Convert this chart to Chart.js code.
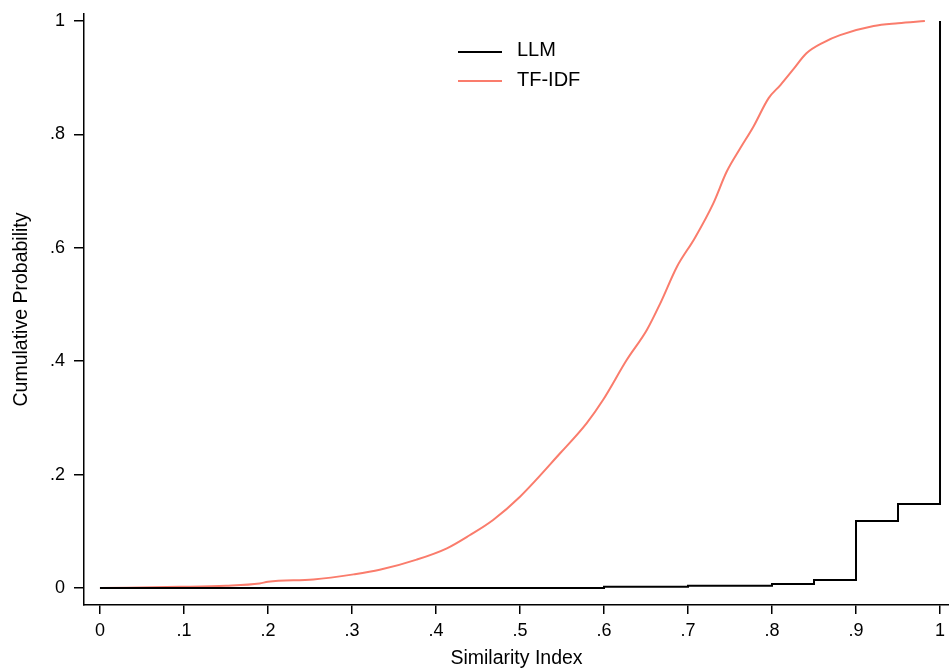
<!DOCTYPE html>
<html>
<head>
    <title>Similarity CDF</title>
    <script src="https://cdn.jsdelivr.net/npm/chart.js@4.4.0/dist/chart.umd.min.js"></script>
    <style>
        * { margin: 0; padding: 0; box-sizing: border-box; }
        body { background: #fff; width: 949px; height: 671px; overflow: hidden; }
        #wrap { position: relative; width: 949px; height: 671px; }
    </style>
</head>
<body>
    <div id="wrap"><canvas id="cdf"></canvas></div>
    <script>
        // LLM empirical CDF (step function)
        const llmX = [0, 0.6, 0.7, 0.8, 0.85, 0.9, 0.95, 1];
        const llmY = [0, 0.002, 0.004, 0.007, 0.014, 0.118, 0.148, 1];

        // TF-IDF empirical CDF
        const tfidfX = [0, 0.095, 0.15, 0.19, 0.2, 0.254, 0.302, 0.333, 0.377, 0.413, 0.44, 0.468, 0.5,
            0.548, 0.579, 0.599, 0.627, 0.651, 0.667, 0.687, 0.708, 0.73, 0.746, 0.762, 0.778,
            0.796, 0.81, 0.825, 0.841, 0.861, 0.881, 0.921, 0.95, 0.982];
        const tfidfY = [0, 0.002, 0.004, 0.008, 0.011, 0.015, 0.024, 0.032, 0.05, 0.07, 0.093, 0.12, 0.161,
            0.238, 0.29, 0.332, 0.402, 0.455, 0.502, 0.567, 0.617, 0.678, 0.734, 0.775, 0.814,
            0.864, 0.887, 0.914, 0.943, 0.962, 0.975, 0.991, 0.996, 1.0];

        const xTicks = [0, 0.1, 0.2, 0.3, 0.4, 0.5, 0.6, 0.7, 0.8, 0.9, 1];
        const xTickLabels = ['0', '.1', '.2', '.3', '.4', '.5', '.6', '.7', '.8', '.9', '1'];
        const yTicks = [0, 0.2, 0.4, 0.6, 0.8, 1];
        const yTickLabels = ['0', '.2', '.4', '.6', '.8', '1'];

        const toPoints = (xs, ys) => xs.map((x, i) => ({ x: x, y: ys[i] }));
        const font = 'Arial, "Liberation Sans", sans-serif';

        // legend drawn inside the plot, like the original
        const innerLegend = {
            id: 'innerLegend',
            afterDraw(chart) {
                const ctx = chart.ctx;
                const lineY = [52, 81];
                const textY = [56, 86];
                ctx.save();
                chart.data.datasets.forEach((ds, i) => {
                    ctx.strokeStyle = ds.borderColor;
                    ctx.lineWidth = 2;
                    ctx.beginPath();
                    ctx.moveTo(458, lineY[i]);
                    ctx.lineTo(502, lineY[i]);
                    ctx.stroke();
                    ctx.fillStyle = '#000';
                    ctx.font = '20px ' + font;
                    ctx.textBaseline = 'alphabetic';
                    ctx.fillText(ds.label, 517, textY[i]);
                });
                ctx.restore();
            }
        };

        new Chart(document.getElementById('cdf'), {
            type: 'line',
            data: {
                datasets: [{
                    label: 'LLM',
                    data: toPoints(llmX, llmY),
                    borderColor: '#000000',
                    borderWidth: 2,
                    stepped: 'before',
                    pointRadius: 0
                }, {
                    label: 'TF-IDF',
                    data: toPoints(tfidfX, tfidfY),
                    borderColor: '#fa7c6c',
                    borderWidth: 2,
                    cubicInterpolationMode: 'monotone',
                    pointRadius: 0
                }]
            },
            options: {
                responsive: true,
                maintainAspectRatio: false,
                animation: false,
                layout: { padding: { top: 14, right: 0, left: 0, bottom: 0 } },
                plugins: {
                    legend: { display: false },
                    tooltip: { enabled: false }
                },
                scales: {
                    x: {
                        type: 'linear',
                        min: -0.019,
                        max: 1.0107,
                        afterBuildTicks: s => { s.ticks = xTicks.map(v => ({ value: v })); },
                        afterFit: s => {
                            s.height = 66;
                            s.paddingLeft = 0;
                            s.paddingRight = 0;
                        },
                        grid: { drawOnChartArea: false, drawTicks: true, tickLength: 9, color: '#000', lineWidth: 1.5 },
                        border: { display: true, color: '#000', width: 1.5 },
                        ticks: {
                            color: '#000',
                            font: { size: 18, family: font },
                            padding: 6,
                            maxRotation: 0,
                            callback: (v, i) => xTickLabels[i]
                        },
                        title: {
                            display: true,
                            text: 'Similarity Index',
                            color: '#000',
                            font: { size: 19.5, family: font },
                            padding: { top: 0, bottom: 1 }
                        }
                    },
                    y: {
                        type: 'linear',
                        min: -0.030,
                        max: 1.0123,
                        afterBuildTicks: s => { s.ticks = yTicks.map(v => ({ value: v })); },
                        afterFit: s => {
                            s.width = 84;
                            s.paddingTop = 0;
                            s.paddingBottom = 0;
                        },
                        grid: { drawOnChartArea: false, drawTicks: true, tickLength: 10, color: '#000', lineWidth: 1.5 },
                        border: { display: true, color: '#000', width: 1.5 },
                        ticks: {
                            color: '#000',
                            font: { size: 18, family: font },
                            padding: 9,
                            callback: (v, i) => yTickLabels[i]
                        },
                        title: {
                            display: true,
                            text: 'Cumulative Probability',
                            color: '#000',
                            font: { size: 19.5, family: font },
                            padding: { top: 10, bottom: 0 }
                        }
                    }
                }
            },
            plugins: [innerLegend]
        });
    </script>
</body>
</html>
